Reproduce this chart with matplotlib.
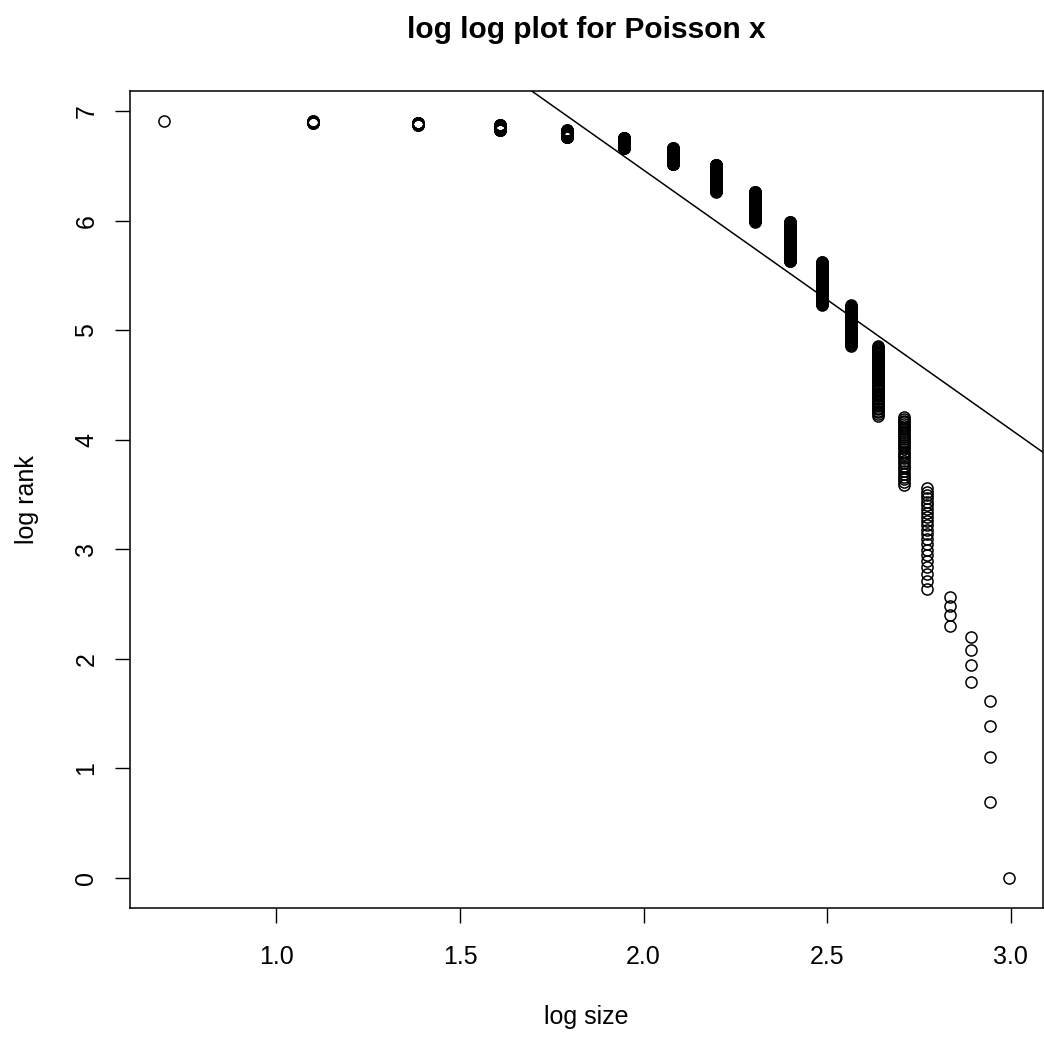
import numpy as np
import matplotlib
matplotlib.use('Agg')
import matplotlib.pyplot as plt

plt.rcParams['font.family'] = ['Liberation Sans', 'DejaVu Sans']

# Poisson sample: value -> how many times it occurs (n = 1000)
sizes = [20, 19, 18, 17, 16, 15, 14, 13, 12, 11, 10, 9, 8, 7, 6, 5, 4, 3, 2]
counts = [1, 4, 4, 4, 22, 32, 61, 58, 91, 122, 126, 148, 109, 80, 59, 46, 18, 14, 1]

# fitted line drawn over the points
fit_intercept = 11.20
fit_slope = -2.369

# sort sizes descending and rank them 1..n
sorted_sizes = np.repeat(sizes, counts)
ranks = np.arange(1, len(sorted_sizes) + 1)
log_size = np.log(sorted_sizes)
log_rank = np.log(ranks)

W, H = 1044, 1039
fig = plt.figure(figsize=(W / 100, H / 100), dpi=100)
ax = fig.add_axes([130 / W, 1 - 908 / H, (1043 - 130) / W, (908 - 91) / H])

ax.plot(log_size, log_rank, 'o', mfc='none', mec='black', ms=8, mew=1.1)

# xlim/ylim like R: range +/- 4%
xr = log_size.max() - log_size.min()
yr = log_rank.max() - log_rank.min()
ax.set_xlim(log_size.min() - 0.04 * xr, log_size.max() + 0.04 * xr)
ax.set_ylim(log_rank.min() - 0.04 * yr, log_rank.max() + 0.04 * yr)

xs = np.array(ax.get_xlim())
ax.plot(xs, fit_intercept + fit_slope * xs, color='black', lw=1.1)
ax.set_xlim(xs)

ax.set_xticks([1.0, 1.5, 2.0, 2.5, 3.0])
ax.set_xticklabels(['1.0', '1.5', '2.0', '2.5', '3.0'])
ax.set_yticks(range(0, 8))
ax.tick_params(axis='both', length=10.8, width=1, labelsize=18, direction='out')
ax.tick_params(axis='x', pad=16)
ax.tick_params(axis='y', pad=12)
for lab in ax.get_yticklabels():
    lab.set_rotation(90)
    lab.set_va('center')

for sp in ax.spines.values():
    sp.set_linewidth(1.1)

ax.set_xlabel('log size', fontsize=18, va='center')
ax.xaxis.set_label_coords(0.5, -(1017 - 908) / (908 - 91))
ax.set_ylabel('log rank', fontsize=18, va='center')
ax.yaxis.set_label_coords(-(130 - 27) / (1043 - 130), 0.5)

fig.text((130 + 1043) / 2 / W, 1 - 38 / H, 'log log plot for Poisson x',
         fontsize=21.5, fontweight='bold', ha='center', va='baseline')

fig.savefig('out.png', dpi=100)
